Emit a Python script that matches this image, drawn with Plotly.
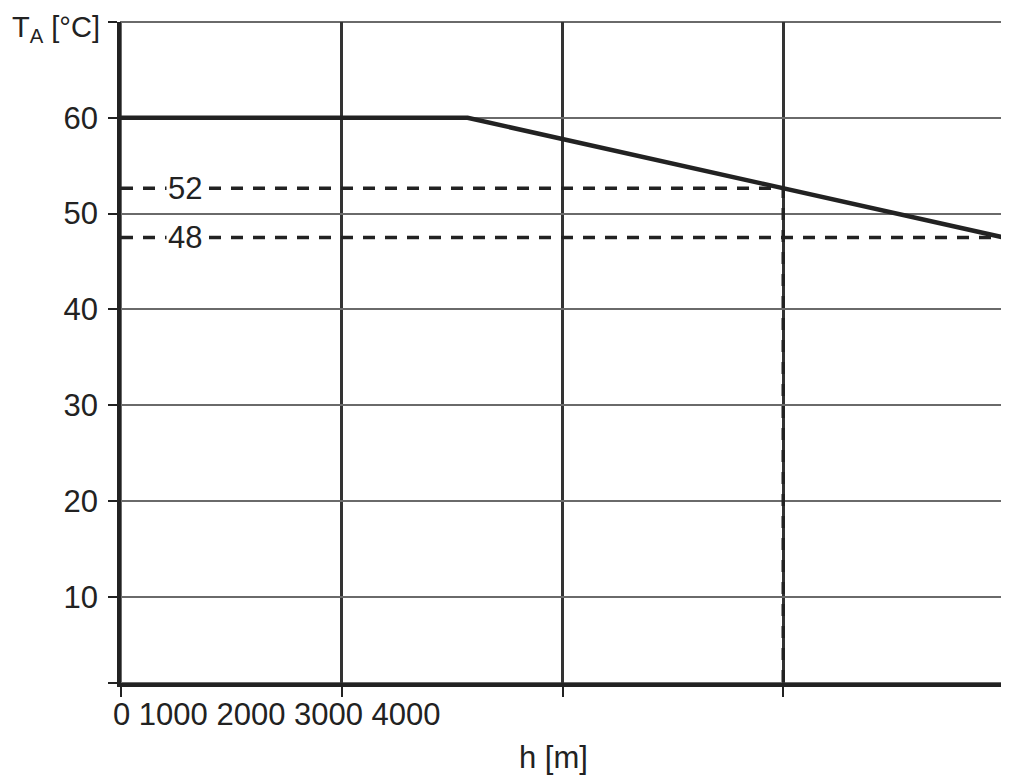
import plotly.graph_objects as go

# ---- data ----
curve_h = [0, 1570, 4000, 4000]
curve_t = [60, 60, 47.5, 1]

ref1_h = [0, 3000, 3000]
ref1_t = [52.65, 52.65, 1]
ref2_h = [0, 4000]
ref2_t = [47.5, 47.5]

ref_labels = ["52", "48"]
ref_label_h = [290, 290]
ref_label_t = [52.65, 47.5]

x_ticks = [0, 1000, 2000, 3000, 4000]
y_ticks = [10, 20, 30, 40, 50, 60]
y_edge_ticks = [1, 70]
x_label_text = "0 1000 2000 3000 4000"

FONT = "Liberation Sans, Arial, sans-serif"
DARK = "#222222"
FS = 31

fig = go.Figure()
dash = "12px,10px"
fig.add_trace(go.Scatter(x=ref1_h, y=ref1_t, mode="lines",
                         line=dict(color=DARK, width=3.5, dash=dash),
                         showlegend=False, hoverinfo="skip"))
fig.add_trace(go.Scatter(x=ref2_h, y=ref2_t, mode="lines",
                         line=dict(color=DARK, width=3.5, dash=dash),
                         showlegend=False, hoverinfo="skip"))
fig.add_trace(go.Scatter(x=curve_h, y=curve_t, mode="lines",
                         line=dict(color=DARK, width=4.5),
                         showlegend=False))

for lab, hx, ty in zip(ref_labels, ref_label_h, ref_label_t):
    fig.add_annotation(x=hx, y=ty, xref="x", yref="y", text=lab,
                       showarrow=False, bgcolor="white", borderpad=1,
                       font=dict(family=FONT, size=FS, color=DARK))

# x tick label text (as printed in the original)
fig.add_annotation(x=-0.011, y=-0.048, xref="paper", yref="paper",
                   text=x_label_text, showarrow=False,
                   xanchor="left", yanchor="middle",
                   font=dict(family=FONT, size=FS, color=DARK))
# axis titles
fig.add_annotation(x=-0.1257, y=1.019, xref="paper", yref="paper",
                   text="T<sub>A</sub> [°C]", showarrow=False,
                   xanchor="left", yanchor="top",
                   font=dict(family=FONT, size=29, color=DARK))
fig.add_annotation(x=0.49, y=-0.112, xref="paper", yref="paper",
                   text="h [m]", showarrow=False, xanchor="center",
                   yanchor="middle",
                   font=dict(family=FONT, size=FS, color=DARK))

# frame (top / right border)
fig.add_shape(type="rect", xref="paper", yref="paper", x0=0, x1=1, y0=0, y1=1,
              line=dict(color="#6a6a6a", width=2), layer="below")

fig.update_xaxes(range=[0, 4000], tickvals=x_ticks, showticklabels=False,
                 showgrid=True, gridcolor="#333333", gridwidth=2.5,
                 showline=True, linecolor=DARK, linewidth=3.5,
                 ticks="outside", ticklen=10, tickwidth=2, tickcolor=DARK,
                 zeroline=False, fixedrange=True)
fig.update_yaxes(range=[1, 70], tickvals=y_ticks,
                 showgrid=True, gridcolor="#6a6a6a", gridwidth=2,
                 showline=True, linecolor=DARK, linewidth=3.5,
                 ticks="outside", ticklen=9, tickwidth=2, tickcolor=DARK,
                 ticklabelstandoff=4,
                 minor=dict(tickmode="array", tickvals=y_edge_ticks,
                            ticks="outside", ticklen=9, tickwidth=2,
                            tickcolor=DARK, showgrid=False),
                 tickfont=dict(family=FONT, size=FS, color=DARK),
                 zeroline=False, fixedrange=True)

fig.update_layout(width=1001, height=768,
                  margin=dict(l=113, r=5, t=14, b=93),
                  plot_bgcolor="white", paper_bgcolor="white",
                  font=dict(family=FONT, color=DARK))

fig.write_html("out.html")
